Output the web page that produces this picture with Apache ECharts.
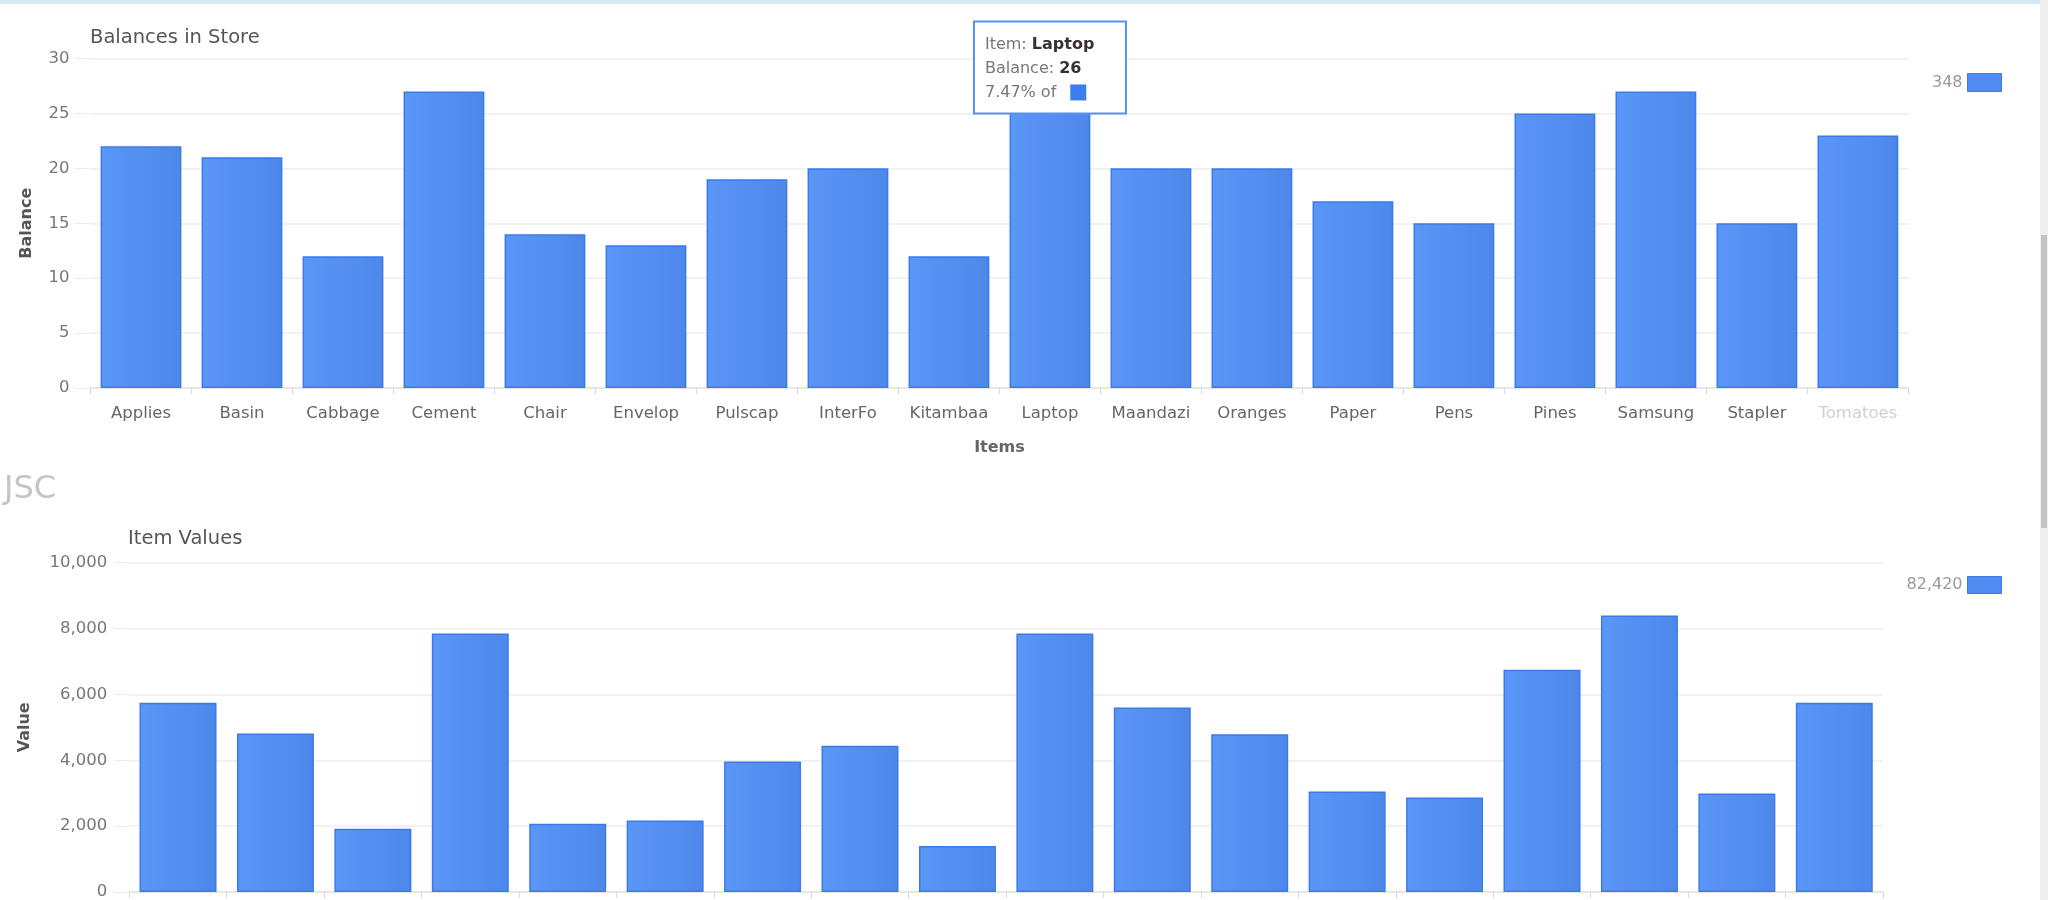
<!DOCTYPE html>
<html>
<head>
<meta charset="utf-8">
<script src="https://cdn.jsdelivr.net/npm/echarts@6/dist/echarts.min.js"></script>
<style>
  html, body { margin: 0; padding: 0; background: #fff; overflow: hidden; }
  #chart { width: 2048px; height: 900px; }
</style>
</head>
<body>
<div id="chart"></div>
<script>
// Store items and their figures
const items = ['Applies', 'Basin', 'Cabbage', 'Cement', 'Chair', 'Envelop', 'Pulscap', 'InterFo', 'Kitambaa',
               'Laptop', 'Maandazi', 'Oranges', 'Paper', 'Pens', 'Pines', 'Samsung', 'Stapler', 'Tomatoes'];
const balances = [22, 21, 12, 27, 14, 13, 19, 20, 12, 26, 20, 20, 17, 15, 25, 27, 15, 23];
const itemValues = [5750, 4810, 1920, 7850, 2070, 2170, 3960, 4440, 1400, 7850, 5600, 4790, 3050, 2870, 6750, 8400, 2990, 5750];

// Value-axis tick labels
const balanceTicks = [0, 5, 10, 15, 20, 25, 30];
const valueTicks = [0, 2000, 4000, 6000, 8000, 10000];

// Item whose balloon is open
const hoverItem = 'Laptop';
// Category label drawn faded at the end of the axis
const fadedItem = 'Tomatoes';

const FONT = 'DejaVu Sans';
const sum = arr => arr.reduce((a, b) => a + b, 0);
const fmt = v => Number(v).toLocaleString('en-US');

const balanceTotal = sum(balances);
const valueTotal = sum(itemValues);
const hoverIdx = items.indexOf(hoverItem);
const hoverBalance = balances[hoverIdx];
const hoverShare = (hoverBalance / balanceTotal * 100).toFixed(2);

const barFill = {
  type: 'linear', x: 0, y: 0, x2: 1, y2: 0,
  colorStops: [{ offset: 0, color: '#5b97f7' }, { offset: 1, color: '#4d87ea' }]
};
const barStyle = { color: barFill, borderColor: '#3a7be9', borderWidth: 1.5 };

const gridLine = '#ececec';

function valueAxis(ticks, name, nameGap, labelMargin, tickLen, gridIndex) {
  return {
    type: 'value', gridIndex,
    min: ticks[0], max: ticks[ticks.length - 1], interval: ticks[1] - ticks[0],
    name, nameLocation: 'middle', nameGap,
    nameTextStyle: { fontFamily: FONT, fontSize: 16, fontWeight: 'bold', color: '#555' },
    axisLine: { show: false },
    axisTick: { show: true, length: tickLen, lineStyle: { color: gridLine } },
    axisLabel: { fontFamily: FONT, fontSize: 16.5, color: '#777', margin: labelMargin, formatter: fmt },
    splitLine: { show: true, lineStyle: { color: gridLine, width: 1.5 } }
  };
}

const categoryData = items.map(n => n === fadedItem ? { value: n, textStyle: { color: '#d0d0d0' } } : n);

const legendBase = {
  right: 46, padding: 0, align: 'right', icon: 'rect', itemWidth: 34, selectedMode: false,
  itemStyle: { color: '#4f8bf0', borderColor: '#3a7be9', borderWidth: 1 },
  textStyle: { fontFamily: FONT, fontSize: 16, color: '#999' }
};

const chart = echarts.init(document.getElementById('chart'), null, { renderer: 'canvas' });

chart.setOption({
  animation: false,
  backgroundColor: '#ffffff',
  title: [
    { text: 'Balances in Store', left: 90, top: 28, padding: 0,
      textStyle: { fontFamily: FONT, fontSize: 19.5, fontWeight: 'normal', color: '#555' } },
    { text: 'Item Values', left: 128, top: 529, padding: 0,
      textStyle: { fontFamily: FONT, fontSize: 19.5, fontWeight: 'normal', color: '#555' } }
  ],
  legend: [
    Object.assign({}, legendBase, { data: ['Balance'], top: 73, itemHeight: 18,
      formatter: () => fmt(balanceTotal) }),
    Object.assign({}, legendBase, { data: ['Value'], top: 576, itemHeight: 17,
      formatter: () => fmt(valueTotal) })
  ],
  grid: [
    { left: 90.5, right: 139.6, top: 58.5, height: 329.5, containLabel: false, outerBoundsMode: 'none' },
    { left: 129.3, right: 165, top: 562.7, height: 329.3, containLabel: false, outerBoundsMode: 'none' }
  ],
  xAxis: [
    { type: 'category', gridIndex: 0, data: categoryData,
      name: 'Items', nameLocation: 'middle', nameGap: 52,
      nameTextStyle: { fontFamily: FONT, fontSize: 16, fontWeight: 'bold', color: '#666' },
      axisLine: { show: true, lineStyle: { color: '#e2e2e2', width: 1.5 } },
      axisTick: { show: true, length: 6, lineStyle: { color: '#d8d8d8' } },
      axisLabel: { interval: 0, fontFamily: FONT, fontSize: 16.5, color: '#666', margin: 17 },
      splitLine: { show: false } },
    { type: 'category', gridIndex: 1, data: items,
      axisLine: { show: true, lineStyle: { color: '#e2e2e2', width: 1.5 } },
      axisTick: { show: true, length: 6, lineStyle: { color: '#d8d8d8' } },
      axisLabel: { show: false },
      splitLine: { show: false } }
  ],
  yAxis: [
    valueAxis(balanceTicks, 'Balance', 56, 21, 16, 0),
    valueAxis(valueTicks, 'Value', 96, 22, 15, 1)
  ],
  series: [
    { type: 'bar', name: 'Balance', xAxisIndex: 0, yAxisIndex: 0,
      data: balances, barWidth: '80%', itemStyle: barStyle,
      markPoint: {
        silent: true, symbol: 'rect', symbolSize: 0, animation: false,
        data: [{ coord: [hoverItem, hoverBalance] }],
        label: {
          show: true, position: 'inside', offset: [0, -35],
          width: 130, align: 'center', verticalAlign: 'middle',
          backgroundColor: '#ffffff', borderColor: '#5a8fe8', borderWidth: 2,
          padding: [10, 10, 8, 10], lineHeight: 24,
          fontFamily: FONT, fontSize: 16, color: '#777',
          formatter: () => '{l|Item: }{b|' + hoverItem + '}\n{l|Balance: }{b|' + hoverBalance + '}\n{l|' + hoverShare + '% of}{gap|}{sq|}',
          rich: {
            l: { fontFamily: FONT, fontSize: 16, color: '#777', align: 'left', lineHeight: 24 },
            b: { fontFamily: FONT, fontSize: 16, color: '#3a3030', fontWeight: 'bold', align: 'left', lineHeight: 24 },
            gap: { width: 14, align: 'left', lineHeight: 24 },
            sq: { backgroundColor: '#3d7fea', width: 16, height: 16, align: 'left', lineHeight: 24 }
          }
        }
      } },
    { type: 'bar', name: 'Value', xAxisIndex: 1, yAxisIndex: 1,
      data: itemValues, barWidth: '79%', itemStyle: barStyle }
  ],
  graphic: [
    // page top border
    { type: 'rect', left: 0, top: 0, shape: { width: 2040, height: 4 }, style: { fill: '#d9e8f7' }, silent: true },
    // window scrollbar
    { type: 'rect', left: 2040, top: 0, shape: { width: 8, height: 900 }, style: { fill: '#efefef' }, silent: true },
    { type: 'rect', left: 2041, top: 235, shape: { width: 6, height: 293 }, style: { fill: '#c3c3c3' }, silent: true },
    // logo mark
    { type: 'text', left: 4, top: 474, silent: true,
      style: { text: 'JSC', fontFamily: FONT, fontSize: 32, fill: '#c4c4c4' } }
  ]
});
</script>
</body>
</html>
